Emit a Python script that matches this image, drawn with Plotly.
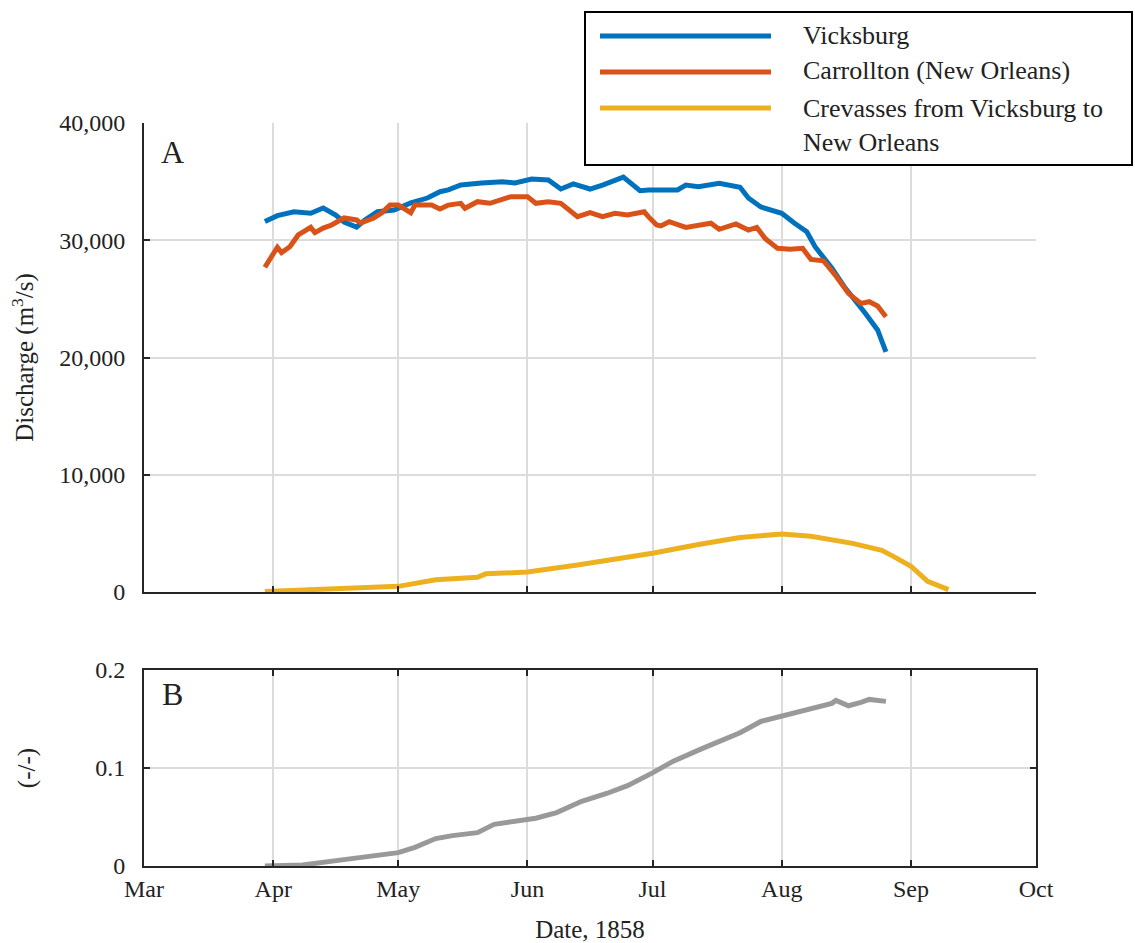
import plotly.graph_objects as go

# ---------------- data ----------------
vicks_dates = ["1858-03-30", "1858-04-02", "1858-04-06", "1858-04-10", "1858-04-13", "1858-04-16",
               "1858-04-18", "1858-04-21", "1858-04-23", "1858-04-26", "1858-04-30", "1858-05-04",
               "1858-05-08", "1858-05-11", "1858-05-13", "1858-05-16", "1858-05-21", "1858-05-26",
               "1858-05-29", "1858-06-02", "1858-06-06", "1858-06-09", "1858-06-12", "1858-06-16",
               "1858-06-19", "1858-06-24", "1858-06-28", "1858-06-30", "1858-07-07", "1858-07-09",
               "1858-07-12", "1858-07-17", "1858-07-22", "1858-07-24", "1858-07-27", "1858-08-01",
               "1858-08-04", "1858-08-07", "1858-08-09", "1858-08-13", "1858-08-16", "1858-08-19",
               "1858-08-21", "1858-08-24", "1858-08-26"]
vicks_q = [31600, 32100, 32430, 32300, 32750, 32150,
           31560, 31130, 31730, 32430, 32580, 33180,
           33600, 34140, 34290, 34710, 34880, 34990,
           34880, 35220, 35140, 34370, 34800, 34370,
           34710, 35390, 34230, 34290, 34290, 34710,
           34570, 34860, 34520, 33600, 32840, 32300,
           31470, 30730, 29450, 27630, 26040, 24760,
           23800, 22350, 20470]

carr_dates = ["1858-03-30", "1858-04-02", "1858-04-03", "1858-04-05", "1858-04-07", "1858-04-10",
              "1858-04-11", "1858-04-13", "1858-04-15", "1858-04-18", "1858-04-21", "1858-04-22",
              "1858-04-25", "1858-04-27", "1858-04-29", "1858-05-01", "1858-05-04", "1858-05-05",
              "1858-05-09", "1858-05-11", "1858-05-13", "1858-05-16", "1858-05-17", "1858-05-20",
              "1858-05-23", "1858-05-25", "1858-05-28", "1858-06-01", "1858-06-03", "1858-06-06",
              "1858-06-09", "1858-06-13", "1858-06-16", "1858-06-19", "1858-06-22", "1858-06-25",
              "1858-06-29", "1858-06-30", "1858-07-02", "1858-07-03", "1858-07-05", "1858-07-09",
              "1858-07-15", "1858-07-17", "1858-07-21", "1858-07-24", "1858-07-26", "1858-07-28",
              "1858-07-31", "1858-08-03", "1858-08-06", "1858-08-08", "1858-08-11", "1858-08-14",
              "1858-08-17", "1858-08-20", "1858-08-22", "1858-08-24", "1858-08-26"]
carr_q = [27700, 29400, 28950, 29450, 30450, 31100,
          30650, 31040, 31300, 31900, 31730, 31470,
          31880, 32320, 33000, 33000, 32350, 33000,
          33000, 32660, 33000, 33150, 32730, 33290,
          33150, 33370, 33720, 33720, 33150, 33290,
          33150, 32010, 32350, 32010, 32300, 32150,
          32430, 32010, 31300, 31220, 31580, 31100,
          31450, 30930, 31390, 30870, 31100, 30160,
          29310, 29230, 29310, 28370, 28250, 26950,
          25470, 24620, 24760, 24390, 23480]

crev_dates = ["1858-03-30", "1858-04-10", "1858-04-19", "1858-05-01", "1858-05-10", "1858-05-20",
              "1858-05-22", "1858-06-01", "1858-06-13", "1858-06-20", "1858-07-01", "1858-07-12",
              "1858-07-22", "1858-08-01", "1858-08-08", "1858-08-18", "1858-08-25", "1858-08-28",
              "1858-09-01", "1858-09-05", "1858-09-10"]
crev_q = [50, 200, 330, 480, 1050, 1250,
          1550, 1700, 2300, 2650, 3300, 4050,
          4650, 4950, 4750, 4150, 3550, 3000,
          2200, 900, 200]

ratio_dates = ["1858-03-30", "1858-04-08", "1858-04-17", "1858-04-24", "1858-05-01", "1858-05-05",
               "1858-05-10", "1858-05-14", "1858-05-20", "1858-05-24", "1858-05-27", "1858-06-03",
               "1858-06-08", "1858-06-14", "1858-06-20", "1858-06-25", "1858-07-01", "1858-07-06",
               "1858-07-13", "1858-07-22", "1858-07-27", "1858-08-01", "1858-08-07", "1858-08-13",
               "1858-08-14", "1858-08-17", "1858-08-20", "1858-08-22", "1858-08-26"]
ratio_v = [0.0, 0.001, 0.006, 0.010, 0.0136, 0.019,
           0.028, 0.031, 0.034, 0.0425, 0.0445, 0.0487,
           0.0545, 0.066, 0.074, 0.082, 0.095, 0.107,
           0.120, 0.136, 0.1475, 0.153, 0.159, 0.166,
           0.169, 0.1635, 0.167, 0.170, 0.168]

legend_labels = ["Vicksburg", "Carrollton (New Orleans)", "Crevasses from Vicksburg to<br>New Orleans"]
colors = ["#0072BD", "#D95319", "#EDB120"]
ratio_color = "#999999"

# ---------------- figure ----------------
W, H = 1135, 943
L, R, T, B = 144, 99, 123, 77
PW, PH = W - L - R, H - T - B

def px_x(p):
    return (p - L) / PW

def px_y(p):
    return (H - B - p) / PH

FONT = "Liberation Serif"
TXT = "#222222"
AX = "#262626"
GRID = "#dcdcdc"
LW = 5

fig = go.Figure()
fig.add_trace(go.Scatter(x=vicks_dates, y=vicks_q, mode="lines", line=dict(color=colors[0], width=LW),
                         name="Vicksburg", showlegend=False, xaxis="x", yaxis="y"))
fig.add_trace(go.Scatter(x=carr_dates, y=carr_q, mode="lines", line=dict(color=colors[1], width=LW),
                         name="Carrollton (New Orleans)", showlegend=False, xaxis="x", yaxis="y"))
fig.add_trace(go.Scatter(x=crev_dates, y=crev_q, mode="lines", line=dict(color=colors[2], width=LW),
                         name="Crevasses", showlegend=False, xaxis="x", yaxis="y"))
fig.add_trace(go.Scatter(x=ratio_dates, y=ratio_v, mode="lines", line=dict(color=ratio_color, width=LW),
                         name="ratio", showlegend=False, xaxis="x2", yaxis="y2"))

xcommon = dict(type="date", range=["1858-03-01", "1858-10-01"], tick0="1858-03-01", dtick="M1",
               tickformat="%b", ticks="inside", ticklen=6, tickwidth=2, tickcolor=AX,
               showline=True, linecolor=AX, linewidth=2, showgrid=True, gridcolor=GRID, gridwidth=2,
               zeroline=False, automargin=False, tickfont=dict(family=FONT, size=24, color=TXT))
ycommon = dict(ticks="inside", ticklen=6, tickwidth=2, tickcolor=AX, showline=True, linecolor=AX,
               linewidth=2, showgrid=True, gridcolor=GRID, gridwidth=2, zeroline=False, automargin=False,
               tickfont=dict(family=FONT, size=24, color=TXT), ticklabelstandoff=12)

dom_a = [px_y(592), 1.0]
dom_b = [0.0, px_y(670)]

fig.update_layout(
    width=W, height=H, autosize=False,
    margin=dict(l=L, r=R, t=T, b=B),
    paper_bgcolor="white", plot_bgcolor="white",
    font=dict(family=FONT, color=TXT),
    xaxis=dict(xcommon, anchor="y", domain=[0, 1], showticklabels=False, matches="x2"),
    yaxis=dict(ycommon, anchor="x", domain=dom_a, range=[0, 40000], dtick=10000, tickformat=",d",
               title=dict(text="Discharge (m<sup>3</sup>/s)", font=dict(family=FONT, size=25, color=TXT),
                          standoff=18)),
    xaxis2=dict(xcommon, anchor="y2", domain=[0, 1], mirror="ticks",
                title=dict(text="Date, 1858", font=dict(family=FONT, size=25, color=TXT), standoff=22)),
    yaxis2=dict(ycommon, anchor="x2", domain=dom_b, range=[0, 0.2], dtick=0.1, mirror="ticks",
                title=dict(text="(-/-)", font=dict(family=FONT, size=25, color=TXT), standoff=52)),
)

# panel letters
fig.add_annotation(text="A", xref="paper", yref="paper", x=px_x(172), y=px_y(152), showarrow=False,
                   font=dict(family=FONT, size=32, color=TXT), xanchor="center", yanchor="middle")
fig.add_annotation(text="B", xref="paper", yref="paper", x=px_x(172), y=px_y(694), showarrow=False,
                   font=dict(family=FONT, size=32, color=TXT), xanchor="center", yanchor="middle")

# manual legend with long line samples
fig.add_shape(type="rect", xref="paper", yref="paper", x0=px_x(585), x1=px_x(1132), y0=px_y(165), y1=px_y(12),
              line=dict(color="black", width=2), fillcolor="white", layer="above")
line_rows = [36, 72, 108]
text_rows = [35, 71, 125]
for lab, col, ly, ty in zip(legend_labels, colors, line_rows, text_rows):
    fig.add_shape(type="line", xref="paper", yref="paper", x0=px_x(600), x1=px_x(771), y0=px_y(ly), y1=px_y(ly),
                  line=dict(color=col, width=5), layer="above")
    fig.add_annotation(text=lab, xref="paper", yref="paper", x=px_x(801), y=px_y(ty), showarrow=False,
                       xanchor="left", yanchor="middle", align="left",
                       font=dict(family=FONT, size=26, color=TXT))

fig.write_html("out.html")
